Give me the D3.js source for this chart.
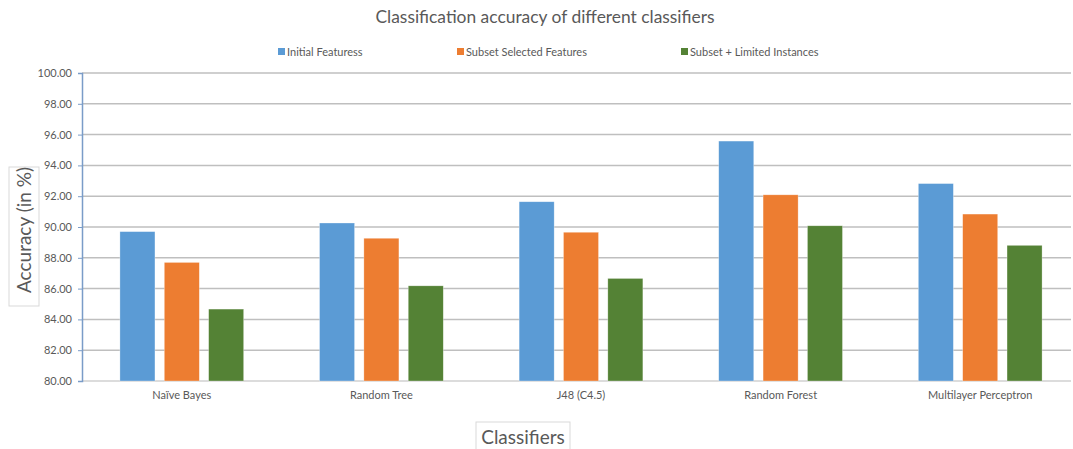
<!DOCTYPE html>
<html>
<head>
<meta charset="utf-8">
<script src="https://cdn.jsdelivr.net/npm/d3@7"></script>
<style>
  html, body { margin: 0; padding: 0; background: #fff; }
  svg { display: block; font-family: Lato, "Open Sans", sans-serif; }
</style>
</head>
<body>
<svg id="chart" width="1073" height="449"></svg>
<script>
// Classifier accuracies (%) under three feature settings
const categories = ["Naïve Bayes", "Random Tree", "J48 (C4.5)", "Random Forest", "Multilayer Perceptron"];
const seriesNames = ["Initial Featuress", "Subset Selected Features", "Subset + Limited Instances"];
const initialFeatures = [89.70, 90.26, 91.64, 95.58, 92.82];
const subsetSelected = [87.70, 89.27, 89.66, 92.09, 90.84];
const subsetLimited = [84.67, 86.18, 86.66, 90.08, 88.81];
const yTicks = [80, 82, 84, 86, 88, 90, 92, 94, 96, 98, 100];
const colors = ["#5B9BD5", "#ED7D31", "#548235"];

const seriesValues = [initialFeatures, subsetSelected, subsetLimited];
const rows = categories.map((c, i) => ({
  category: c,
  values: seriesNames.map((s, j) => ({ series: s, value: seriesValues[j][i] }))
}));

const svg = d3.select("#chart");
const textColor = "#595959";

const margin = { left: 82, right: -7, top: 73, bottom: 68 };
const W = 1073, H = 449;

const x = d3.scaleBand()
  .domain(categories)
  .range([margin.left, W - margin.right])
  .paddingInner(0.38)
  .paddingOuter(0.19);

const xInner = d3.scaleBand()
  .domain(seriesNames)
  .range([0, x.bandwidth()])
  .paddingInner(0.21);

const y = d3.scaleLinear()
  .domain([80, 100])
  .range([H - margin.bottom, margin.top]);

// Title
svg.append("text")
  .attr("x", 545).attr("y", 23)
  .attr("text-anchor", "middle")
  .attr("fill", textColor)
  .style("font-size", "17.4px")
  .text("Classification accuracy of different classifiers");

// Legend
const legendX = [278, 457, 681];
const legend = svg.append("g");
seriesNames.forEach((s, i) => {
  const g = legend.append("g").attr("transform", `translate(${legendX[i]},56)`);
  g.append("rect").attr("x", 0).attr("y", -8).attr("width", 7).attr("height", 7).attr("fill", colors[i]);
  g.append("text").attr("x", 9).attr("y", 0)
    .attr("fill", textColor).style("font-size", "11px").text(s);
});

// Horizontal gridlines
svg.append("g")
  .selectAll("line")
  .data(yTicks.slice(1))
  .join("line")
  .attr("x1", margin.left).attr("x2", 1071)
  .attr("y1", d => y(d)).attr("y2", d => y(d))
  .attr("stroke", "#BFBFBF").attr("stroke-width", 1.5);

// Category axis baseline
svg.append("line")
  .attr("x1", margin.left).attr("x2", 1071)
  .attr("y1", y(80)).attr("y2", y(80))
  .attr("stroke", "#D0D0D0").attr("stroke-width", 1.5);

// Bars
svg.append("g")
  .selectAll("g")
  .data(rows)
  .join("g")
  .attr("transform", d => `translate(${x(d.category)},0)`)
  .selectAll("rect")
  .data(d => d.values)
  .join("rect")
  .attr("x", d => xInner(d.series))
  .attr("width", xInner.bandwidth())
  .attr("y", d => y(d.value))
  .attr("height", d => y(80) - y(d.value))
  .attr("fill", (d, i) => colors[i])
  .attr("stroke", "rgba(255,255,255,0.5)")
  .attr("stroke-width", 0.6);

// Value axis
const yAxis = d3.axisLeft(y)
  .tickValues(yTicks)
  .tickFormat(d3.format(".2f"))
  .tickSize(4)
  .tickPadding(6);
const gy = svg.append("g")
  .attr("transform", `translate(${margin.left},0)`)
  .call(yAxis);
gy.select(".domain").attr("stroke", "#7A9CC8").attr("stroke-width", 1.5);
gy.selectAll(".tick line").attr("stroke", "#7A9CC8");
gy.selectAll(".tick text").attr("fill", textColor).style("font-size", "11px")
  .style("font-family", "Lato, 'Open Sans', sans-serif");

// Category labels
const xAxis = d3.axisBottom(x).tickSize(0).tickPadding(10);
const gx = svg.append("g")
  .attr("transform", `translate(0,${y(80)})`)
  .call(xAxis);
gx.select(".domain").remove();
gx.selectAll(".tick text").attr("fill", textColor).style("font-size", "11px")
  .style("font-family", "Lato, 'Open Sans', sans-serif");

// Value axis title in a framed box
const yTitle = svg.append("g").attr("transform", "translate(24,236) rotate(-90)");
yTitle.append("rect")
  .attr("x", -70).attr("y", -15).attr("width", 139).attr("height", 30)
  .attr("fill", "#fff").attr("stroke", "#D9D9D9");
yTitle.append("text")
  .attr("text-anchor", "middle").attr("x", 6).attr("y", 7)
  .attr("fill", textColor).style("font-size", "19px")
  .text("Accuracy (in %)");

// Category axis title in a framed box
const xTitle = svg.append("g").attr("transform", "translate(523,437)");
xTitle.append("rect")
  .attr("x", -47).attr("y", -15).attr("width", 94).attr("height", 32)
  .attr("fill", "#fff").attr("stroke", "#D9D9D9");
xTitle.append("text")
  .attr("text-anchor", "middle").attr("y", 7)
  .attr("fill", textColor).style("font-size", "19px")
  .text("Classifiers");
</script>
</body>
</html>
